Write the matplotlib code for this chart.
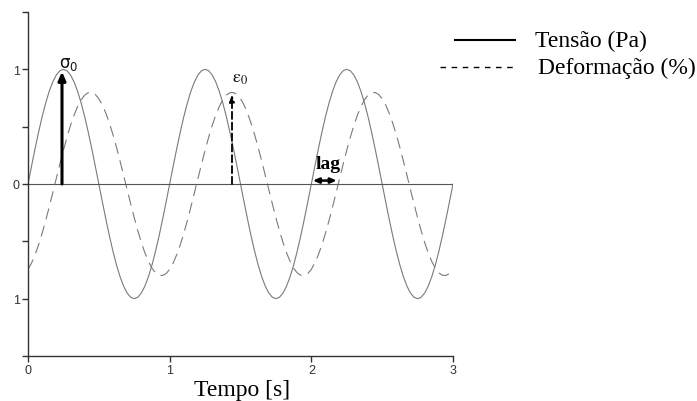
import matplotlib
matplotlib.use("Agg")
import matplotlib.pyplot as plt
from matplotlib.lines import Line2D

# ---- data ----
tempo = [round(0.025 * k, 3) for k in range(121)]
tensao = [
    0.000, 0.156, 0.309, 0.454, 0.588, 0.707, 0.809, 0.891, 0.951, 0.988,
    1.000, 0.988, 0.951, 0.891, 0.809, 0.707, 0.588, 0.454, 0.309, 0.156,
    0.000, -0.156, -0.309, -0.454, -0.588, -0.707, -0.809, -0.891, -0.951, -0.988,
    -1.000, -0.988, -0.951, -0.891, -0.809, -0.707, -0.588, -0.454, -0.309, -0.156,
    0.000, 0.156, 0.309, 0.454, 0.588, 0.707, 0.809, 0.891, 0.951, 0.988,
    1.000, 0.988, 0.951, 0.891, 0.809, 0.707, 0.588, 0.454, 0.309, 0.156,
    0.000, -0.156, -0.309, -0.454, -0.588, -0.707, -0.809, -0.891, -0.951, -0.988,
    -1.000, -0.988, -0.951, -0.891, -0.809, -0.707, -0.588, -0.454, -0.309, -0.156,
    0.000, 0.156, 0.309, 0.454, 0.588, 0.707, 0.809, 0.891, 0.951, 0.988,
    1.000, 0.988, 0.951, 0.891, 0.809, 0.707, 0.588, 0.454, 0.309, 0.156,
    0.000, -0.156, -0.309, -0.454, -0.588, -0.707, -0.809, -0.891, -0.951, -0.988,
    -1.000, -0.988, -0.951, -0.891, -0.809, -0.707, -0.588, -0.454, -0.309, -0.156,
    0.000]
deformacao = [
    -0.744, -0.689, -0.616, -0.529, -0.429, -0.318, -0.199, -0.075, 0.050, 0.174,
    0.294, 0.407, 0.510, 0.600, 0.675, 0.734, 0.775, 0.796, 0.798, 0.781,
    0.744, 0.689, 0.616, 0.529, 0.429, 0.318, 0.199, 0.075, -0.050, -0.174,
    -0.294, -0.407, -0.510, -0.600, -0.675, -0.734, -0.775, -0.796, -0.798, -0.781,
    -0.744, -0.689, -0.616, -0.529, -0.429, -0.318, -0.199, -0.075, 0.050, 0.174,
    0.294, 0.407, 0.510, 0.600, 0.675, 0.734, 0.775, 0.796, 0.798, 0.781,
    0.744, 0.689, 0.616, 0.529, 0.429, 0.318, 0.199, 0.075, -0.050, -0.174,
    -0.294, -0.407, -0.510, -0.600, -0.675, -0.734, -0.775, -0.796, -0.798, -0.781,
    -0.744, -0.689, -0.616, -0.529, -0.429, -0.318, -0.199, -0.075, 0.050, 0.174,
    0.294, 0.407, 0.510, 0.600, 0.675, 0.734, 0.775, 0.796, 0.798, 0.781,
    0.744, 0.689, 0.616, 0.529, 0.429, 0.318, 0.199, 0.075, -0.050, -0.174,
    -0.294, -0.407, -0.510, -0.600, -0.675, -0.734, -0.775, -0.796, -0.798, -0.781,
    -0.744]
sigma0_t, sigma0_v = 0.24, 1.0
eps0_t, eps0_v = 1.44, 0.8
lag_t0, lag_t1 = 2.01, 2.18
xticks = [0, 1, 2, 3]
xticklabels = ["0", "1", "2", "3"]
yticks = [-1.5, -1, -0.5, 0, 0.5, 1, 1.5]
yticklabels = ["", "1", "", "0", "", "1", ""]
legend_labels = ["Tensão (Pa)", "Deformação (%)"]

W, H = 697, 402
fig = plt.figure(figsize=(W / 100, H / 100), dpi=100)
ax = fig.add_axes([28 / W, (H - 357) / H, (453 - 28) / W, (357 - 13) / H])

curve_col = "#7a7a7a"
ax.plot(tempo, tensao, color=curve_col, lw=0.8)
ax.plot(tempo, deformacao, color=curve_col, lw=0.8, dashes=(10, 6))
ax.plot([0, 3], [0, 0], color="#555555", lw=0.8)

# arrows
ax.annotate("", xy=(sigma0_t, sigma0_v - 0.02), xytext=(sigma0_t, 0),
            arrowprops=dict(arrowstyle="-|>,head_length=0.5,head_width=0.22",
                            color="black", lw=2.2, shrinkA=0, shrinkB=0))
ax.annotate("", xy=(eps0_t, eps0_v - 0.02), xytext=(eps0_t, 0),
            arrowprops=dict(arrowstyle="-|>,head_length=0.4,head_width=0.15",
                            color="black", lw=1.3, linestyle=(0, (4, 2)),
                            shrinkA=0, shrinkB=0))
ax.annotate("", xy=(lag_t1, 0.03), xytext=(lag_t0, 0.03),
            arrowprops=dict(arrowstyle="<|-|>,head_length=0.35,head_width=0.15",
                            color="black", lw=1.8, shrinkA=0, shrinkB=0))

fig.text(69 / W, 1 - 64 / H, r"$\mathrm{\sigma}_0$", fontsize=12,
         math_fontfamily="dejavusans", ha="center", va="center", color="#111111")
fig.text(240 / W, 1 - 78 / H, r"$\mathrm{\varepsilon}_0$", fontsize=13,
         math_fontfamily="stix", ha="center", va="center", color="#111111")
fig.text(328 / W, 1 - 165 / H, "lag", fontsize=14, family="Liberation Serif",
         fontweight="bold", ha="center", va="center")

ax.set_xlim(0, 3)
ax.set_ylim(-1.5, 1.5)
ax.set_xticks(xticks)
ax.set_xticklabels(xticklabels)
ax.set_yticks(yticks)
ax.set_yticklabels(yticklabels)
for s in ["top", "right"]:
    ax.spines[s].set_visible(False)
for s in ["left", "bottom"]:
    ax.spines[s].set_color("#333333")
    ax.spines[s].set_linewidth(1.0)
ax.tick_params(direction="out", length=4, width=1.0, color="#333333",
               labelsize=9, labelcolor="#333333", pad=2)
for lab in ax.get_xticklabels() + ax.get_yticklabels():
    lab.set_family("Liberation Sans")
ax.patch.set_alpha(0)

fig.text(242 / W, 1 - 391 / H, "Tempo [s]", family="Liberation Serif", fontsize=17,
         ha="center", va="center")

# legend (manual)
fig.add_artist(Line2D([455 / W, 515 / W], [1 - 41 / H, 1 - 41 / H], color="black", lw=1.5))
fig.add_artist(Line2D([440 / W, 515 / W], [1 - 68 / H, 1 - 68 / H], color="black", lw=1.0,
                      dashes=(4, 4)))
fig.text(535 / W, 1 - 41 / H, legend_labels[0], family="Liberation Serif", fontsize=17,
         ha="left", va="center")
fig.text(538 / W, 1 - 68 / H, legend_labels[1], family="Liberation Serif", fontsize=17,
         ha="left", va="center")

fig.savefig("out.png", dpi=100)
